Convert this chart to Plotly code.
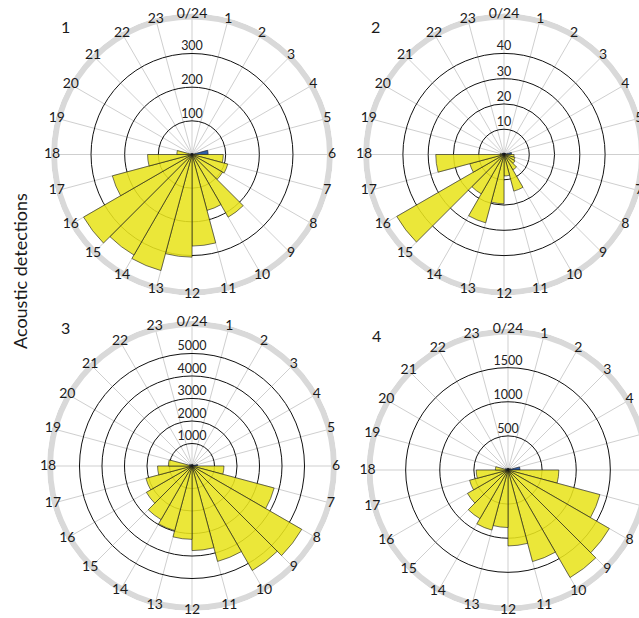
import plotly.graph_objects as go

# ---------------- data ----------------
hours = list(range(24))
hour_labels = ["0/24"] + [str(h) for h in range(1, 24)]
panel_names = ["1", "2", "3", "4"]

detections_1 = [3, 2, 2, 3, 4, 48, 93, 110, 105, 215, 172, 272,
                305, 357, 345, 372, 245, 132, 45, 4, 3, 2, 2, 3]
detections_2 = [0.6, 0.5, 0.5, 0.6, 0.8, 3, 4, 4.5, 5, 7, 15, 8.5,
                19.5, 28, 18, 49, 14, 27, 1.5, 0.8, 0.6, 0.5, 0.5, 0.6]
detections_3 = [80, 60, 50, 60, 90, 250, 1420, 3780, 5630, 5360, 4390, 3760,
                3260, 2970, 2750, 2340, 2120, 1530, 1050, 120, 80, 60, 50, 60]
detections_4 = [25, 20, 20, 25, 40, 175, 745, 1395, 1715, 1820, 1390, 1113,
                843, 912, 823, 686, 583, 466, 185, 40, 25, 20, 20, 25]

radial_ticks_1 = [100, 200, 300]
radial_ticks_2 = [10, 20, 30, 40]
radial_ticks_3 = [1000, 2000, 3000, 4000, 5000]
radial_ticks_4 = [500, 1000, 1500]

ring_value = [410, 54.6, 6310, 2030]   # radial value of the grey outer ring
day_hours = list(range(6, 19))          # hours drawn in yellow, others blue

all_detections = [detections_1, detections_2, detections_3, detections_4]
all_ticks = [radial_ticks_1, radial_ticks_2, radial_ticks_3, radial_ticks_4]

# ---------------- layout helpers ----------------
W, H = 660, 618
# (centre x, centre y, ring radius) in pixels
geom = [(192, 154.5, 138), (504, 154.5, 138), (192, 466, 142), (508, 470, 138.5)]
label_pos = [(65, 27), (375, 27), (65, 327), (376, 335)]
RING_HALF = 3.0   # px
LABEL_OFF = 2.0   # px beyond ring centre line

YELLOW = "rgba(232,228,30,0.88)"
BLUE = "#2f5faa"
RING = "#d9d9d9"
FONT = "Lato, 'Noto Sans', sans-serif"

fig = go.Figure()
layout_polars = {}
for i in range(4):
    pk = "polar" if i == 0 else f"polar{i+1}"
    cx, cy, R = geom[i]
    rv = ring_value[i]
    upx = rv / R                       # data units per pixel
    rmax = rv + RING_HALF * upx
    vals = all_detections[i]
    colors = [YELLOW if h in day_hours else BLUE for h in hours]
    fig.add_trace(go.Barpolar(
        r=vals, theta=[(h + 0.5) * 15 for h in hours], width=[15] * 24,
        marker=dict(color=colors, line=dict(color="#1a1a1a", width=0.6)),
        subplot=pk, showlegend=False, hoverinfo="r+theta"))
    # grey outer ring
    fig.add_trace(go.Barpolar(
        r=[2 * RING_HALF * upx], base=[rv - RING_HALF * upx], theta=[180],
        width=[360], marker=dict(color=RING, line=dict(width=0)),
        subplot=pk, showlegend=False, hoverinfo="skip"))
    # hour labels sitting on the outer ring
    fig.add_trace(go.Scatterpolar(
        r=[rv + LABEL_OFF * upx] * 24, theta=[h * 15 for h in hours],
        text=hour_labels, mode="text", textposition="middle center",
        textfont=dict(family=FONT, size=14, color="#1a1a1a"),
        cliponaxis=False, subplot=pk, showlegend=False, hoverinfo="skip"))
    # radial tick labels
    ticks = all_ticks[i]
    fig.add_trace(go.Scatterpolar(
        r=ticks, theta=[0] * len(ticks), text=[str(t) for t in ticks],
        mode="text", textposition="top center",
        textfont=dict(family=FONT, size=12.5, color="#222"),
        cliponaxis=False, subplot=pk, showlegend=False, hoverinfo="skip"))

    Rd = R + RING_HALF
    layout_polars[pk] = dict(
        domain=dict(x=[(cx - Rd) / W, (cx + Rd) / W],
                    y=[1 - (cy + Rd) / H, 1 - (cy - Rd) / H]),
        bgcolor="white",
        radialaxis=dict(range=[0, rmax], tickvals=ticks,
                        showticklabels=False, ticks="", showline=False,
                        gridcolor="#111", gridwidth=0.8),
        angularaxis=dict(rotation=90, direction="clockwise",
                         tickvals=[h * 15 for h in hours],
                         showticklabels=False, ticks="",
                         gridcolor="#cfcfcf", gridwidth=0.8,
                         showline=False),
    )

annotations = []
for i in range(4):
    x, y = label_pos[i]
    annotations.append(dict(text=panel_names[i], x=x / W, y=1 - y / H,
                            xref="paper", yref="paper", showarrow=False,
                            xanchor="center", yanchor="middle",
                            font=dict(family=FONT, size=16, color="#1a1a1a")))
annotations.append(dict(text="Acoustic detections", x=20 / W, y=1 - 271 / H,
                        xref="paper", yref="paper", showarrow=False,
                        textangle=-90, xanchor="center", yanchor="middle",
                        font=dict(family=FONT, size=18, color="#1a1a1a")))

fig.update_layout(width=W, height=H, autosize=False,
                  margin=dict(l=0, r=0, t=0, b=0),
                  paper_bgcolor="white", plot_bgcolor="white",
                  barmode="overlay",
                  annotations=annotations, **layout_polars)

fig.write_html("out.html", config={"displayModeBar": False},
               post_script="document.body.style.margin='0';document.body.style.overflow='hidden';")
